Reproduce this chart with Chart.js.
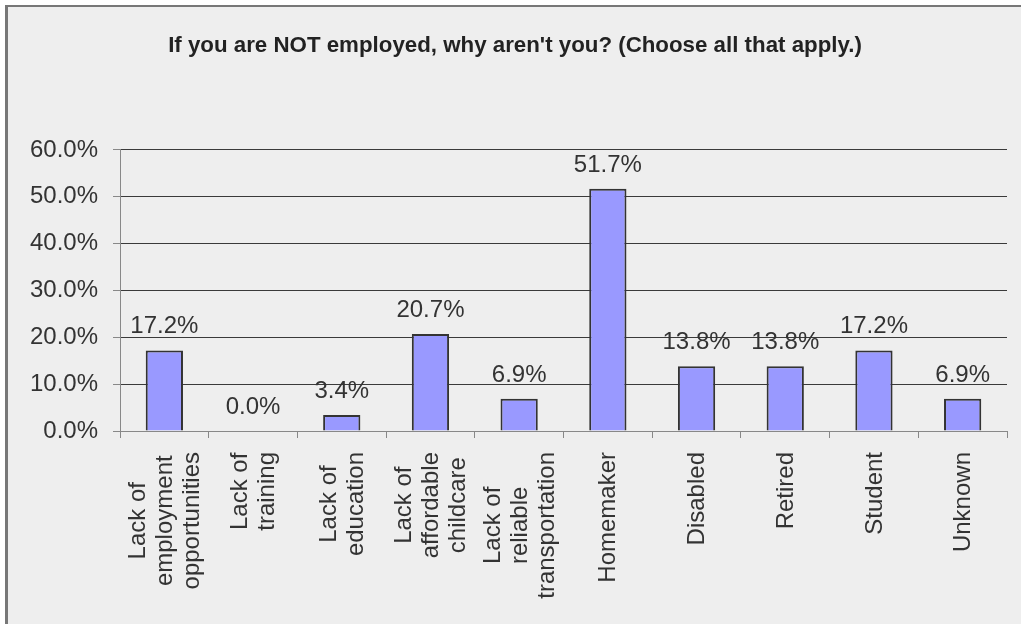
<!DOCTYPE html>
<html>
<head>
<meta charset="utf-8">
<script src="https://cdn.jsdelivr.net/npm/chart.js@4.4.1/dist/chart.umd.min.js"></script>
<style>
    html, body { margin: 0; padding: 0; background: #fff; overflow: hidden; }
    #frame {
        position: absolute; left: 5px; top: 5px; width: 1100px; height: 700px;
        border-left: 3px solid #777; border-top: 2px solid #777;
        background: #eeeeee;
    }
    #grafik { position: absolute; left: 0; top: 0; }
</style>
</head>
<body>
<div id="frame"></div>
<canvas id="grafik" width="1021" height="624"></canvas>
<script>
const categories = [
    ['Lack of', 'employment', 'opportunities'],
    ['Lack of', 'training'],
    ['Lack of', 'education'],
    ['Lack of', 'affordable', 'childcare'],
    ['Lack of', 'reliable', 'transportation'],
    ['Homemaker'],
    ['Disabled'],
    ['Retired'],
    ['Student'],
    ['Unknown']
]
const percentValues = [17.2, 0.0, 3.4, 20.7, 6.9, 51.7, 13.8, 13.8, 17.2, 6.9]
const yTicks = [0, 10, 20, 30, 40, 50, 60]
const chartTitle = "If you are NOT employed, why aren't you? (Choose all that apply.)"

const fontFamily = '"Liberation Sans", Arial, sans-serif'
const textColor = '#333'

// labels di atas batang + label kategori diputar, ditengah per baris
const customLabels = {
    id: 'customLabels',
    afterDatasetsDraw(chart) {
        const ctx = chart.ctx
        const meta = chart.getDatasetMeta(0)
        ctx.save()
        ctx.font = '24px ' + fontFamily
        ctx.fillStyle = textColor
        ctx.textAlign = 'center'
        ctx.textBaseline = 'alphabetic'
        meta.data.forEach((bar, i) => {
            ctx.fillText(percentValues[i].toFixed(1) + '%', bar.x, bar.y - 17)
        })

        const xScale = chart.scales.x
        const top = chart.chartArea.bottom + 21
        const lineH = 27
        ctx.textBaseline = 'middle'
        categories.forEach((lines, i) => {
            const cx = xScale.getPixelForValue(i)
            const maxW = Math.max(...lines.map(l => ctx.measureText(l).width))
            ctx.save()
            ctx.translate(cx, top)
            ctx.rotate(-Math.PI / 2)
            lines.forEach((l, j) => {
                ctx.fillText(l, -maxW / 2, (j - (lines.length - 1) / 2) * lineH + 1)
            })
            ctx.restore()
        })
        ctx.restore()
    }
}

new Chart(document.getElementById('grafik'), {
    type: 'bar',
    data: {
        labels: categories.map(c => c.join(' ')),
        datasets: [{
            data: percentValues,
            backgroundColor: '#9999ff',
            borderColor: '#333',
            borderWidth: 2,
            barPercentage: 0.42,
            categoryPercentage: 1
        }]
    },
    options: {
        responsive: false,
        animation: false,
        layout: { padding: { left: 23, right: 14, top: 0, bottom: 0 } },
        plugins: {
            legend: { display: false },
            tooltip: { enabled: false },
            title: {
                display: true,
                text: chartTitle,
                color: '#222',
                font: { family: fontFamily, size: 22.3, weight: 'bold' },
                padding: { top: 32, bottom: 91.2 }
            }
        },
        scales: {
            x: {
                afterFit(scale) { scale.height = 193 },
                grid: {
                    offset: true,
                    drawOnChartArea: false,
                    tickLength: 7,
                    tickColor: '#888'
                },
                border: { color: '#888', width: 1 },
                ticks: { display: false }
            },
            y: {
                min: 0,
                max: 60,
                afterFit(scale) { scale.width = 97 },
                afterBuildTicks(scale) { scale.ticks = yTicks.map(v => ({ value: v })) },
                grid: {
                    color: c => c.tick && c.tick.value === 0 ? 'rgba(0,0,0,0)' : '#3a3a3a',
                    tickColor: '#888',
                    tickLength: 7
                },
                border: { color: '#888', width: 1 },
                ticks: {
                    color: textColor,
                    padding: 15,
                    font: { family: fontFamily, size: 24 },
                    callback: v => v.toFixed(1) + '%'
                }
            }
        }
    },
    plugins: [customLabels]
})
</script>
</body>
</html>
